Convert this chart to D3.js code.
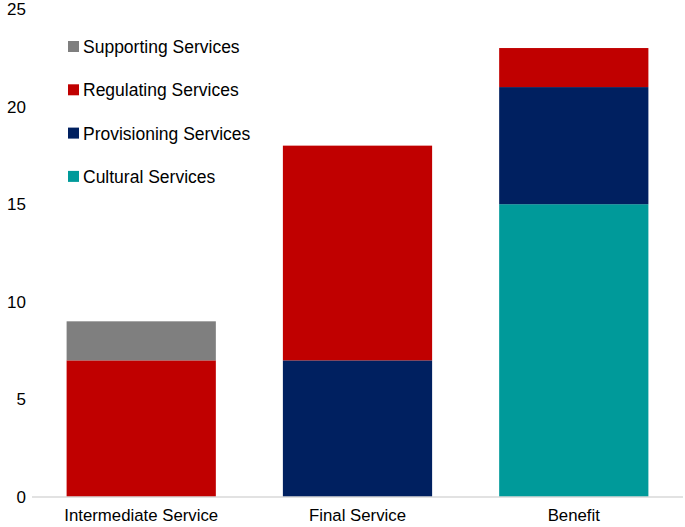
<!DOCTYPE html>
<html>
<head>
<meta charset="utf-8">
<script src="https://cdn.jsdelivr.net/npm/d3@7"></script>
<style>
  body { margin: 0; background: #fff; }
  svg { display: block; font-family: "Liberation Sans", Arial, sans-serif; }
</style>
</head>
<body>
<svg id="chart" width="685" height="527"></svg>
<script>
// Chart data
const categories = ['Intermediate Service', 'Final Service', 'Benefit']
const seriesNames = ['Cultural Services', 'Provisioning Services', 'Regulating Services', 'Supporting Services']
const cultural = [0, 0, 15]
const provisioning = [0, 7, 6]
const regulating = [7, 11, 2]
const supporting = [2, 0, 0]
const yTicks = [0, 5, 10, 15, 20, 25]
const colors = {
  'Cultural Services': '#009a9a',
  'Provisioning Services': '#002060',
  'Regulating Services': '#c00000',
  'Supporting Services': '#7f7f7f'
}
// legend is listed top-down in reverse stack order
const legendOrder = ['Supporting Services', 'Regulating Services', 'Provisioning Services', 'Cultural Services']

const rows = categories.map((c, i) => ({
  category: c,
  'Cultural Services': cultural[i],
  'Provisioning Services': provisioning[i],
  'Regulating Services': regulating[i],
  'Supporting Services': supporting[i]
}))

const svg = d3.select('#chart')
const margin = { top: 9, right: 2, bottom: 30, left: 32 }
const width = 685 - margin.left - margin.right
const height = 527 - margin.top - margin.bottom

const g = svg.append('g').attr('transform', `translate(${margin.left},${margin.top})`)

const x = d3.scaleBand().domain(categories).range([0, width]).paddingInner(0.31).paddingOuter(0.16)
const y = d3.scaleLinear().domain([0, 25]).range([height, 0])

const stacked = d3.stack().keys(seriesNames)(rows)

// Bars
g.append('g')
  .selectAll('g')
  .data(stacked)
  .enter().append('g')
  .attr('fill', d => colors[d.key])
  .selectAll('rect')
  .data(d => d.filter(p => p[1] - p[0] > 0))
  .enter().append('rect')
  .attr('x', d => x(d.data.category))
  .attr('width', x.bandwidth())
  .attr('y', d => y(d[1]))
  .attr('height', d => y(d[0]) - y(d[1]))

// Baseline
g.append('line')
  .attr('x1', 0).attr('x2', width)
  .attr('y1', y(0)).attr('y2', y(0))
  .attr('stroke', '#d9d9d9')
  .attr('stroke-width', 1.5)

// Y axis labels
const yAxis = g.append('g')
  .call(d3.axisLeft(y).tickValues(yTicks).tickSize(0).tickPadding(6))
yAxis.select('.domain').remove()
yAxis.selectAll('text')
  .attr('font-size', '17px')
  .attr('fill', '#000')
  .style('font-family', '"Liberation Sans", Arial, sans-serif')

// X axis labels
const xAxis = g.append('g')
  .attr('transform', `translate(0,${height})`)
  .call(d3.axisBottom(x).tickSize(0).tickPadding(12))
xAxis.select('.domain').remove()
xAxis.selectAll('text')
  .attr('font-size', '16.8px')
  .attr('fill', '#000')
  .style('font-family', '"Liberation Sans", Arial, sans-serif')

// Legend
const legend = svg.append('g').attr('transform', 'translate(68,47)')
const item = legend.selectAll('g')
  .data(legendOrder)
  .enter().append('g')
  .attr('transform', (d, i) => `translate(0,${i * 43.3})`)
item.append('rect')
  .attr('x', 0).attr('y', -6)
  .attr('width', 11).attr('height', 11)
  .attr('fill', d => colors[d])
item.append('text')
  .attr('x', 15)
  .attr('dy', '0.35em')
  .attr('font-size', '17.5px')
  .attr('fill', '#000')
  .text(d => d)
</script>
</body>
</html>
